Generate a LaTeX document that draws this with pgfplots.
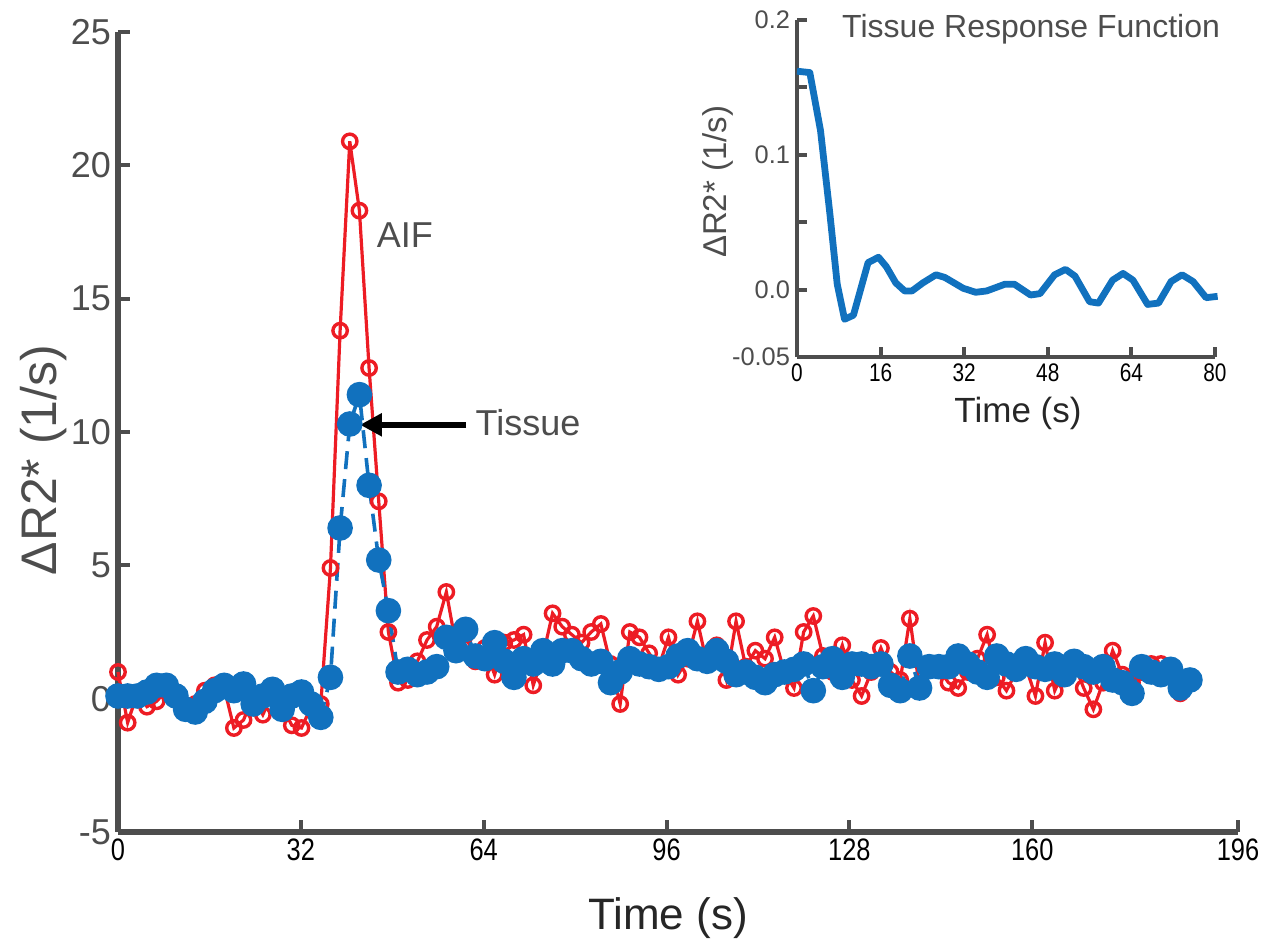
\documentclass[border=0pt]{standalone}
\usepackage{fontspec}
\setmainfont{Liberation Sans}
\newfontfamily\narrowsans[FakeStretch=0.82]{Liberation Sans}
\usepackage{pgfplots}
\usepackage{pgfplotstable}
\pgfplotsset{compat=1.18}
\usetikzlibrary{arrows.meta}

\definecolor{aifred}{RGB}{237,28,36}
\definecolor{tisblue}{RGB}{17,113,190}
\definecolor{axgray}{RGB}{77,77,77}

% time (s), arterial input, tissue curve
\pgfplotstableread{
t aif tis
0 1.0 0.1
1.69 -0.9 0.1
3.38 0.2 0.1
5.07 -0.3 0.25
6.76 -0.1 0.5
8.45 0.3 0.5
10.14 0.0 0.1
11.83 -0.5 -0.4
13.52 -0.2 -0.5
15.21 0.3 -0.1
16.90 0.5 0.3
18.59 0.4 0.5
20.28 -1.1 0.3
21.97 -0.8 0.55
23.66 0.1 -0.2
25.35 -0.6 0.1
27.04 0.2 0.35
28.73 -0.3 -0.4
30.42 -1.0 0.1
32.11 -1.1 0.25
33.80 -0.3 -0.2
35.49 -0.2 -0.7
37.18 4.9 0.8
38.87 13.8 6.4
40.56 20.9 10.3
42.25 18.3 11.4
43.94 12.4 8.0
45.63 7.4 5.2
47.32 2.5 3.3
49.01 0.6 1.0
50.70 0.7 1.1
52.39 1.4 0.9
54.08 2.2 1.0
55.77 2.7 1.2
57.46 4.0 2.3
59.15 2.0 1.8
60.84 2.4 2.6
62.53 1.4 1.6
64.22 1.9 1.5
65.91 0.9 2.1
67.60 2.1 1.4
69.29 2.2 0.8
70.98 2.4 1.5
72.67 0.5 1.3
74.36 1.6 1.8
76.05 3.2 1.3
77.74 2.7 1.8
79.43 2.4 1.8
81.12 2.1 1.5
82.81 2.5 1.3
84.50 2.8 1.4
86.19 1.3 0.6
87.88 -0.2 1.0
89.57 2.5 1.5
91.26 2.3 1.3
92.95 1.7 1.2
94.64 1.2 1.1
96.33 2.3 1.2
98.02 0.9 1.6
99.71 1.5 1.8
101.40 2.9 1.5
103.09 1.3 1.4
104.78 2.0 1.8
106.47 0.7 1.4
108.16 2.9 0.9
109.85 1.2 1.0
111.54 1.8 0.8
113.23 1.5 0.6
114.92 2.3 0.9
116.61 1.0 1.0
118.30 0.4 1.1
119.99 2.5 1.3
121.68 3.1 0.3
123.37 1.6 1.2
125.06 1.0 1.5
126.75 2.0 0.8
128.44 0.7 1.3
130.13 0.1 1.3
131.82 1.0 1.2
133.51 1.9 1.3
135.20 1.0 0.5
136.89 0.7 0.3
138.58 3.0 1.6
140.27 0.4 0.4
141.96 1.3 1.2
143.65 1.1 1.2
145.34 0.6 1.2
147.03 0.4 1.6
148.72 1.0 1.3
150.41 1.5 1.0
152.10 2.4 0.8
153.79 0.8 1.6
155.48 0.3 1.3
157.17 1.0 1.1
158.86 1.2 1.5
160.55 0.1 1.2
162.24 2.1 1.1
163.93 0.3 1.3
165.62 1.1 0.9
167.31 1.3 1.4
169.00 0.4 1.2
170.69 -0.4 1.0
172.38 0.6 1.2
174.07 1.8 0.7
175.76 0.9 0.6
177.45 0.6 0.2
179.14 1.0 1.2
180.83 1.3 1.0
182.52 1.3 0.9
184.21 1.1 1.1
185.90 0.2 0.4
187.59 0.8 0.7
}\curves

\begin{document}
\begin{tikzpicture}
\path[use as bounding box] (0,0) rectangle (635pt,471.5pt);

\begin{axis}[
  scale only axis, width=560pt, height=400pt,
  at={(59pt,55.5pt)}, anchor=south west,
  xmin=0, xmax=196, ymin=-5, ymax=25,
  axis x line*=bottom, axis y line*=left,
  axis line style={line width=2.6pt, color=axgray, -},
  xtick={0,32,64,96,128,160,196},
  ytick={-5,0,5,10,15,20,25},
  tick align=inside, major tick length=6pt,
  tick style={line width=2pt, color=axgray},
  /pgf/number format/assume math mode=true,
  xticklabel style={font=\narrowsans\fontsize{15.5}{16}\selectfont, text=black},
  yticklabel style={font=\fontsize{18}{20}\selectfont, text=axgray},
  xlabel={Time (s)},
  xlabel style={font=\fontsize{22}{24}\selectfont, text=black!85,
    at={([xshift=-5pt, yshift=-43pt]axis description cs:0.5,0)}, anchor=center},
  ylabel={ΔR2* (1/s)},
  ylabel style={font=\fontsize{25}{27}\selectfont, text=axgray,
    at={([xshift=-37pt]axis description cs:0,0.465)}, anchor=center},
  clip=false,
]
\addplot[aifred, line width=1.6pt, mark=o, mark size=3.6pt,
  mark options={line width=1.7pt, solid}] table[x=t, y=aif] {\curves};
\addplot[tisblue, line width=1.8pt, dash pattern=on 9pt off 5pt,
  mark=*, mark size=5.5pt, mark options={solid, fill=tisblue, draw=tisblue}]
  table[x=t, y=tis] {\curves};

\node[anchor=base, font=\fontsize{18}{20}\selectfont, text=axgray] at (axis cs:50.2,16.9) {AIF};
\node[anchor=base, font=\fontsize{18}{20}\selectfont, text=axgray] at (axis cs:71.75,9.86) {Tissue};
\draw[black, line width=3pt, -{Triangle[length=11pt, width=11pt]}]
  (axis cs:60.9,10.27) -- (axis cs:42.35,10.27);
\end{axis}

\begin{axis}[
  scale only axis, width=209pt, height=168.5pt,
  at={(398.5pt,293pt)}, anchor=south west,
  xmin=0, xmax=80, ymin=-0.05, ymax=0.2,
  axis x line*=bottom, axis y line*=left,
  axis line style={line width=2.4pt, color=axgray, -},
  xtick={0,16,32,48,64,80},
  ytick={-0.05,0,0.05,0.1,0.15,0.2},
  yticklabels={-0.05,0.0,,0.1,,0.2},
  tick align=inside, major tick length=5pt,
  tick style={line width=2pt, color=axgray},
  /pgf/number format/assume math mode=true,
  xticklabel style={font=\narrowsans\fontsize{12.7}{14}\selectfont, text=black},
  yticklabel style={font=\fontsize{12.7}{14}\selectfont, text=axgray},
  xlabel={Time (s)},
  xlabel style={font=\fontsize{17.5}{19}\selectfont, text=black!85,
    at={([xshift=6pt, yshift=-28pt]axis description cs:0.5,0)}, anchor=center},
  ylabel={ΔR2* (1/s)},
  ylabel style={font=\fontsize{16.5}{18}\selectfont, text=axgray,
    at={([xshift=-39.5pt]axis description cs:0,0.52)}, anchor=center},
  clip=false,
]
\addplot[tisblue, line width=3.4pt, line join=round] coordinates {
  (0,0.162) (2.45,0.161) (4.5,0.118) (6.3,0.056) (7.7,0.004) (9.1,-0.022)
  (10.8,-0.019) (13.6,0.020) (15.6,0.024) (17.1,0.017) (18.9,0.005)
  (20.6,-0.001) (22,-0.001) (24.1,0.005) (26.6,0.011) (28.3,0.009)
  (31.8,0.001) (34.2,-0.002) (36.3,-0.001) (39.8,0.004) (41.6,0.004)
  (44.7,-0.004) (46.5,-0.003) (49.3,0.011) (51.4,0.015) (53.2,0.010)
  (56,-0.009) (57.7,-0.010) (60.4,0.007) (62.4,0.012) (64.3,0.007)
  (67.1,-0.011) (69.2,-0.010) (71.6,0.006) (73.7,0.011) (75.8,0.006)
  (78.3,-0.006) (80.5,-0.005)
};
\node[anchor=base, font=\fontsize{16}{18}\selectfont, text=axgray] at (axis cs:44.8,0.1867) {Tissue Response Function};
\end{axis}
\end{tikzpicture}
\end{document}
